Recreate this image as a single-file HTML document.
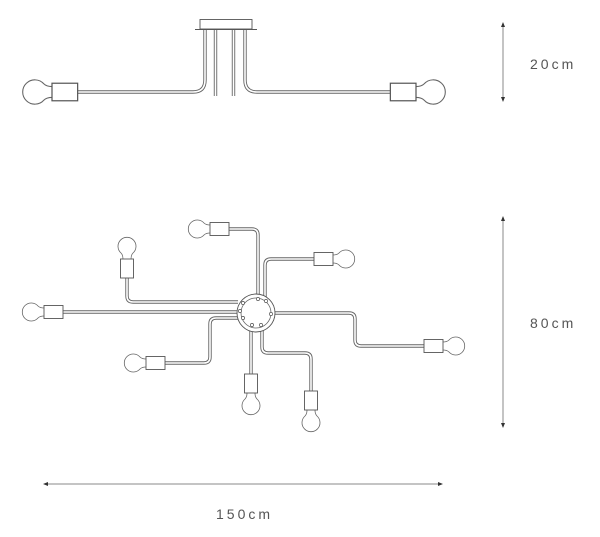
<!DOCTYPE html>
<html><head><meta charset="utf-8"><style>
html,body{margin:0;padding:0;background:#fff;}
svg{display:block}
text{font-family:"Liberation Sans",sans-serif;font-size:14px;fill:#555;letter-spacing:3px}
</style></head><body>
<svg width="600" height="537" viewBox="0 0 600 537" xmlns="http://www.w3.org/2000/svg">
<defs>
<g id="lamp">
<path d="M0,-4 Q-4,-4 -6,-6 A9,9 0 1,0 -6,6 Q-4,4 0,4" fill="#fff" stroke="#666" stroke-width="0.8"/>
<rect x="0" y="-6.5" width="19" height="13" fill="#fff" stroke="#555" stroke-width="0.9"/>
</g>
</defs>
<g fill="none" stroke-linejoin="round">
<g stroke="#666" stroke-width="3.4">
<path d="M205,29 V80 Q205,92 193,92 H78"/>
<path d="M245,29 V80 Q245,92 257,92 H390"/>
<path d="M215.5,29 V96 M233.5,29 V96"/>
<path d="M229,229 H252 Q258,229 258,235 V296"/>
<path d="M127,278 V296 Q127,302 133,302 H238"/>
<path d="M314,259 H271 Q265,259 265,265 V297"/>
<path d="M63,312 H237"/>
<path d="M274,313 H349 Q355,313 355,319 V340 Q355,346 361,346 H424"/>
<path d="M165,363 H204 Q210,363 210,357 V324 Q210,318 216,318 H238"/>
<path d="M251,330 V374"/>
<path d="M262,330 V347 Q262,353 268,353 H305 Q311,353 311,359 V391"/>
</g>
<g stroke="#fff" stroke-width="1.6">
<path d="M205,29 V80 Q205,92 193,92 H78"/>
<path d="M245,29 V80 Q245,92 257,92 H390"/>
<path d="M215.5,29 V96 M233.5,29 V96"/>
<path d="M229,229 H252 Q258,229 258,235 V296"/>
<path d="M127,278 V296 Q127,302 133,302 H238"/>
<path d="M314,259 H271 Q265,259 265,265 V297"/>
<path d="M63,312 H237"/>
<path d="M274,313 H349 Q355,313 355,319 V340 Q355,346 361,346 H424"/>
<path d="M165,363 H204 Q210,363 210,357 V324 Q210,318 216,318 H238"/>
<path d="M251,330 V374"/>
<path d="M262,330 V347 Q262,353 268,353 H305 Q311,353 311,359 V391"/>
</g>
</g>
<rect x="200" y="19.5" width="52" height="9.5" fill="#fff" stroke="#555" stroke-width="0.9"/>
<line x1="195" y1="29.5" x2="257" y2="29.5" stroke="#555" stroke-width="0.9"/>
<use href="#lamp" transform="translate(52,92) scale(1.35)"/>
<use href="#lamp" transform="translate(416,92) rotate(180) scale(1.35)"/>
<circle cx="256" cy="313" r="19" fill="#fff" stroke="#555" stroke-width="0.9"/>
<circle cx="256" cy="313" r="15" fill="none" stroke="#666" stroke-width="0.8"/>
<g fill="#fff" stroke="#555" stroke-width="0.7">
<circle cx="258" cy="299" r="1.6"/><circle cx="266" cy="301" r="1.6"/>
<circle cx="243" cy="303" r="1.6"/><circle cx="271" cy="314" r="1.6"/>
<circle cx="243" cy="318" r="1.6"/><circle cx="252" cy="325" r="1.6"/>
<circle cx="261" cy="325" r="1.6"/><circle cx="240" cy="311" r="1.6"/>
</g>
<use href="#lamp" transform="translate(210,229)"/>
<use href="#lamp" transform="translate(44,312)"/>
<use href="#lamp" transform="translate(146,363)"/>
<use href="#lamp" transform="translate(333,259) rotate(180)"/>
<use href="#lamp" transform="translate(443,346) rotate(180)"/>
<use href="#lamp" transform="translate(127,259) rotate(90)"/>
<use href="#lamp" transform="translate(251,393) rotate(-90)"/>
<use href="#lamp" transform="translate(311,410) rotate(-90)"/>
<g stroke="#888" stroke-width="1">
<line x1="503" y1="25" x2="503" y2="99"/>
<line x1="503" y1="219" x2="503" y2="425"/>
<line x1="46" y1="484" x2="440" y2="484"/>
</g>
<g fill="#333">
<path d="M503,22 L501,27 L505,27Z"/><path d="M503,102 L501,97 L505,97Z"/>
<path d="M503,216 L501,221 L505,221Z"/><path d="M503,428 L501,423 L505,423Z"/>
<path d="M43,484 L48,482 L48,486Z"/><path d="M443,484 L438,482 L438,486Z"/>
</g>
<text x="530" y="69">20cm</text>
<text x="530" y="328">80cm</text>
<text x="216" y="519">150cm</text>
</svg>
</body></html>
